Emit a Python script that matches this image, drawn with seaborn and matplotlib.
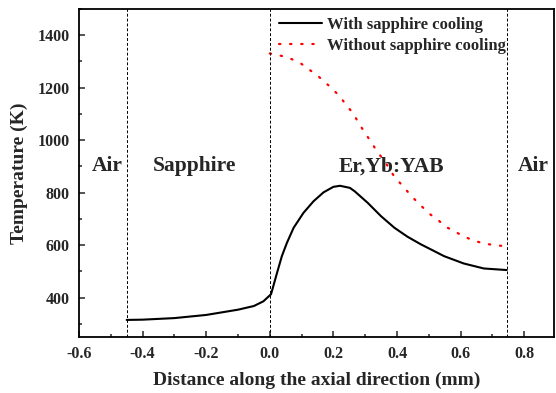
import matplotlib
matplotlib.use("Agg")
import matplotlib.pyplot as plt
from matplotlib.ticker import MultipleLocator
import seaborn as sns
import pandas as pd

# Axial temperature profile with sapphire heat sink
x_cooled = [-0.45, -0.4, -0.3, -0.2, -0.1, -0.05, -0.02, 0.004, 0.023, 0.038,
            0.054, 0.075, 0.106, 0.1375, 0.169, 0.2, 0.221, 0.252, 0.267, 0.308,
            0.35, 0.392, 0.433, 0.475, 0.506, 0.548, 0.61, 0.673, 0.745]
t_cooled = [315, 316, 322, 334, 354, 368, 386, 413, 495, 558,
            609, 666, 723, 767, 801, 822, 826, 818, 805, 761,
            710, 666, 632, 603, 584, 558, 530, 511, 505]

# Axial temperature profile without sapphire heat sink
x_uncooled = [0.0, 0.04, 0.07, 0.10, 0.12, 0.15, 0.17, 0.19, 0.22, 0.24, 0.26,
              0.29, 0.32, 0.34, 0.36, 0.39, 0.42, 0.45, 0.48, 0.50, 0.53, 0.55,
              0.58, 0.61, 0.64, 0.67, 0.71, 0.745]
t_uncooled = [1330, 1320, 1308, 1290, 1272, 1246, 1224, 1203, 1167, 1134, 1105,
              1045, 990, 952, 922, 864, 822, 781, 745, 721, 695, 672,
              653, 633, 618, 607, 599, 596]

# Region boundaries and labels
boundaries = [-0.45, 0.0, 0.745]
region_names = ["Air", "Sapphire", "Er,Yb:YAB", "Air"]
region_x = [-0.51, -0.237, 0.384, 0.83]
region_y = 900

series_labels = ["With sapphire cooling", "Without sapphire cooling"]

sns.set_style("ticks")
plt.rcParams["font.family"] = ["Liberation Serif", "DejaVu Serif"]
plt.rcParams["font.weight"] = "bold"
plt.rcParams["axes.labelweight"] = "bold"

df_cooled = pd.DataFrame({"x": x_cooled, "T": t_cooled})
df_uncooled = pd.DataFrame({"x": x_uncooled, "T": t_uncooled})

fig = plt.figure(figsize=(5.56, 3.93), dpi=100)
ax = fig.add_axes([0.142, 0.1425, 0.854, 0.835])

sns.lineplot(data=df_cooled, x="x", y="T", ax=ax, color="black", lw=1.5,
             label=series_labels[0], sort=False)
sns.lineplot(data=df_uncooled, x="x", y="T", ax=ax, color="red", lw=1.6,
             label=series_labels[1], sort=False, linestyle=(0, (0.6, 4.4)),
             dash_capstyle="round")

for b in boundaries:
    ax.axvline(b, color="black", lw=0.7, linestyle=(0, (3, 2)))

for name, xr in zip(region_names, region_x):
    ax.text(xr, region_y, name, ha="center", va="center", fontsize=15.5,
            fontweight="bold")

ax.set_xlim(-0.6, 0.893)
ax.set_ylim(250, 1500)
ax.xaxis.set_major_locator(MultipleLocator(0.2))
ax.xaxis.set_minor_locator(MultipleLocator(0.1))
ax.yaxis.set_major_locator(MultipleLocator(200))
ax.yaxis.set_minor_locator(MultipleLocator(100))
ax.set_xticks([-0.6, -0.4, -0.2, 0.0, 0.2, 0.4, 0.6, 0.8])
ax.set_xticklabels(["-0.6", "-0.4", "-0.2", "0.0", "0.2", "0.4", "0.6", "0.8"])
ax.tick_params(axis="both", which="both", direction="in", labelsize=11.5,
               width=1.1, pad=6.5)
ax.tick_params(axis="both", which="major", length=4)
ax.tick_params(axis="both", which="minor", length=2.5)
for lab in ax.get_xticklabels() + ax.get_yticklabels():
    lab.set_fontweight("bold")

for sp in ax.spines.values():
    sp.set_visible(True)
    sp.set_linewidth(1.3)
    sp.set_color("black")

ax.set_xlabel("Distance along the axial direction (mm)", fontsize=14,
              fontweight="bold", labelpad=7)
ax.set_ylabel("Temperature (K)", fontsize=14, fontweight="bold", labelpad=7)

leg = ax.legend(loc="upper right", bbox_to_anchor=(0.9, 0.975), frameon=False,
                fontsize=12, handlelength=2.6, borderpad=0, borderaxespad=0,
                labelspacing=0.3, handletextpad=0.3)
for t in leg.get_texts():
    t.set_fontweight("bold")

fig.savefig("out.png", dpi=100)
